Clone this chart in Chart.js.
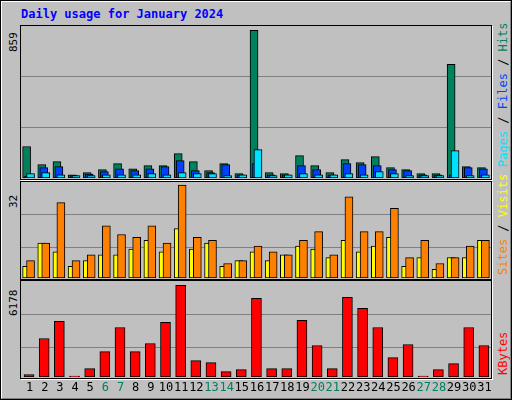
<!DOCTYPE html>
<html>
<head>
<meta charset="utf-8">
<script src="https://cdn.jsdelivr.net/npm/chart.js@4"></script>
<style>
body { margin:0; }
#wrap { position:relative; width:510px; height:398px; background:#c0c0c0; border:1px solid #000; font-family:"DejaVu Sans Mono", monospace; }
#wrap:before { content:""; position:absolute; left:0; top:0; right:0; bottom:0; border:1px solid #fff; border-right-color:#808080; border-bottom-color:#808080; }
.panel { position:absolute; left:19px; width:470px; border:1px solid #000; box-shadow:1px 1px 0 #fff; }
canvas { position:absolute; left:20px; }
.lab { position:absolute; transform-origin:0 0; transform:rotate(-90deg); white-space:nowrap; font-size:12px; }
</style>
</head>
<body>
<div id="wrap">
  <div style="position:absolute;left:20px;top:6px;color:#0000ff;font-weight:bold;font-size:12px">Daily usage for January 2024</div>
  <div class="panel" style="top:24px;height:153px"></div>
  <div class="panel" style="top:180px;height:97px"></div>
  <div class="panel" style="top:279px;height:97px"></div>
  <canvas id="c1" width="470" height="152" style="top:25px"></canvas>
  <canvas id="c2" width="470" height="96" style="top:181px"></canvas>
  <canvas id="c3" width="470" height="116" style="top:280px"></canvas>
  <div class="lab" style="left:6px;top:51px;font-size:11px">859</div>
  <div class="lab" style="left:6px;top:207px;font-size:11px">32</div>
  <div class="lab" style="left:6px;top:315px;font-size:11px">6178</div>
  <div class="lab" style="left:495px;top:166px"><span style="color:#00e0ff">Pages</span> / <span style="color:#0040ff">Files</span> / <span style="color:#00805c">Hits</span></div>
  <div class="lab" style="left:495px;top:274px"><span style="color:#ff8000">Sites</span> / <span style="color:#ffff00">Visits</span></div>
  <div class="lab" style="left:495px;top:374px;color:#ff0000">KBytes</div>
</div>
<script>
var days = [];
for (var d = 1; d <= 31; d++) days.push(d);
var weekends = [6, 7, 13, 14, 20, 21, 27, 28];

var hits   = [183, 78, 95, 19, 31, 49, 84, 54, 72, 72, 142, 95, 43, 84, 25, 859, 31, 25, 130, 72, 31, 107, 89, 124, 60, 49, 25, 25, 661, 66, 60];
var files  = [10, 60, 66, 14, 23, 37, 54, 43, 54, 66, 101, 43, 31, 78, 19, 84, 19, 19, 72, 49, 19, 84, 78, 72, 49, 43, 19, 19, 19, 60, 54];
var pages  = [25, 31, 19, 14, 14, 19, 19, 19, 25, 19, 31, 25, 25, 14, 19, 165, 14, 19, 25, 19, 19, 25, 19, 37, 25, 14, 14, 14, 159, 14, 19];
var sites  = [4, 12, 9, 4, 6, 8, 8, 10, 13, 9, 17, 10, 12, 4, 6, 9, 6, 8, 11, 10, 7, 13, 9, 11, 14, 4, 7, 3, 7, 7, 13];
var visits = [6, 12, 26, 6, 8, 18, 15, 14, 18, 12, 32, 14, 13, 5, 6, 11, 9, 8, 13, 16, 8, 28, 16, 16, 24, 7, 13, 5, 7, 11, 13];
var kbytes = [158, 2593, 3743, 68, 564, 1714, 3337, 1714, 2255, 3676, 6178, 1105, 970, 361, 496, 5299, 564, 564, 3811, 2120, 564, 5367, 4623, 3337, 1308, 2187, 68, 496, 902, 3337, 2120];

function pts(arr, off) {
  return arr.map(function (v, i) { return { x: days[i] + off, y: v }; });
}
function ds(arr, off, color, w, order) {
  return { data: pts(arr, off), backgroundColor: color, borderColor: '#000', borderWidth: 1,
           barThickness: w, order: order, grouped: false, borderSkipped: false };
}
function opts(max, gridVals, bottomPad) {
  return {
    animation: false, responsive: false,
    plugins: { legend: { display: false }, tooltip: { enabled: false } },
    layout: { padding: { left: 0, right: 0, top: 0, bottom: bottomPad || 0 } },
    scales: {
      x: { type: 'linear', min: 0.5, max: 31.5, offset: false, display: false },
      y: { min: 0, max: max, border: { display: false },
           ticks: { display: false }, grid: { drawTicks: false, color: '#808080' },
           afterBuildTicks: function (s) { s.ticks = gridVals.map(function (v) { return { value: v }; }); },
           afterFit: function (s) { s.width = 0; } }
    }
  };
}

new Chart(document.getElementById('c1'), {
  type: 'bar',
  data: { datasets: [
    ds(hits, -0.13, '#00805c', 8, 3),
    ds(files, 0, '#0040ff', 8, 2),
    ds(pages, 0.13, '#00e0ff', 8, 1)
  ] },
  options: opts(884, [295, 590])
});

new Chart(document.getElementById('c2'), {
  type: 'bar',
  data: { datasets: [
    ds(sites, -0.13, '#ffff00', 8, 2),
    ds(visits, 0.13, '#ff8000', 8, 1)
  ] },
  options: opts(33.1, [10.5, 21.9])
});

var dayLabels = {
  id: 'dayLabels',
  afterDraw: function (chart) {
    var c = chart.ctx, xs = chart.scales.x;
    c.save();
    c.font = '12px "DejaVu Sans Mono", monospace';
    c.textAlign = 'center';
    c.textBaseline = 'middle';
    days.forEach(function (d) {
      c.fillStyle = weekends.indexOf(d) >= 0 ? '#008060' : '#000';
      c.fillText(String(d), xs.getPixelForValue(d) + 1, 107);
    });
    c.restore();
  }
};

new Chart(document.getElementById('c3'), {
  type: 'bar',
  data: { datasets: [ ds(kbytes, 0.03, '#ff0000', 10, 1) ] },
  options: opts(6469, [1987, 4238], 20),
  plugins: [dayLabels]
});
</script>
</body>
</html>
